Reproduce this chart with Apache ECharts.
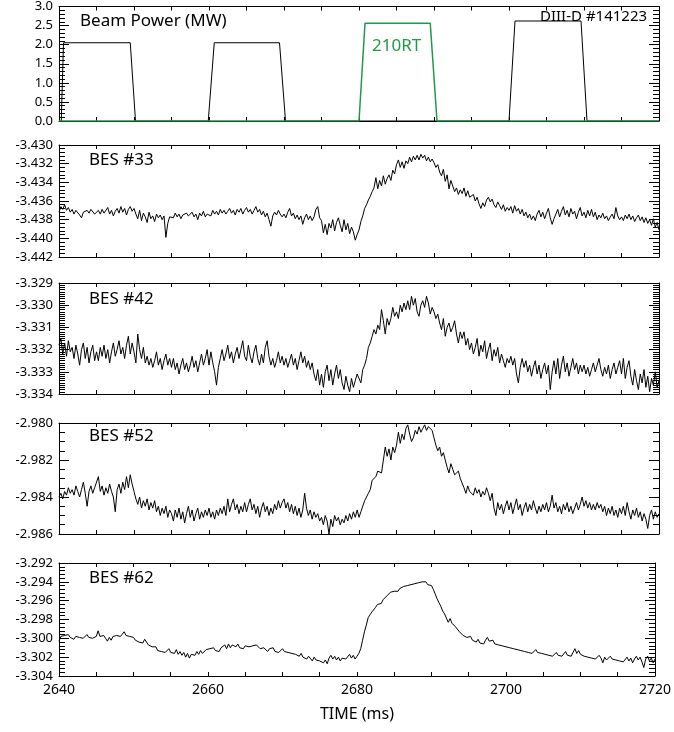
<!DOCTYPE html>
<html>
<head>
<meta charset="utf-8">
<script src="https://cdn.jsdelivr.net/npm/echarts@6/dist/echarts.min.js"></script>
<style>
  html, body { margin: 0; padding: 0; background: #fff; }
  #chart { width: 674px; height: 732px; }
</style>
</head>
<body>
<div id="chart"></div>
<script>
// time base of the BES traces (ms), one sample every 0.25 ms
var SAMPLE_START = 2640
var SAMPLE_STEP = 0.25

var panelNames = ['Beam Power (MW)', 'BES #33', 'BES #42', 'BES #52', 'BES #62']
var yMin = [0, -3.442, -3.334, -2.986, -3.304]
var yMax = [3.0, -3.430, -3.329, -2.980, -3.292]
var yStep = [0.5, 0.002, 0.001, 0.002, 0.002]
var yMinorSplit = [5, 5, 10, 4, 5]
var yDecimals = [1, 3, 3, 3, 3]

// beam power, [time ms, MW]
var beamOther = [
  [2640.0, 0], [2640.3, 0], [2640.6, 2.05], [2649.5, 2.05], [2650.2, 0],
  [2659.9, 0], [2660.7, 2.05], [2669.4, 2.05], [2670.2, 0],
  [2700.0, 0], [2700.8, 2.62], [2709.6, 2.62], [2710.4, 0], [2720, 0]
]
var beam210RT = [
  [2640, 0], [2680.0, 0], [2680.8, 2.56], [2689.5, 2.56], [2690.4, 0], [2720, 0]
]

var bes33 = [
  -3.4372,-3.4366,-3.4369,-3.4364,-3.4370,-3.4367,-3.4372,-3.4369,-3.4374,-3.4370,-3.4368,-3.4375,-3.4378,-3.4372,-3.4374,-3.4370,-3.4373,-3.4369,-3.4371,-3.4374,
  -3.4372,-3.4370,-3.4374,-3.4369,-3.4373,-3.4371,-3.4367,-3.4374,-3.4370,-3.4376,-3.4371,-3.4368,-3.4373,-3.4366,-3.4372,-3.4368,-3.4375,-3.4369,-3.4366,-3.4371,
  -3.4368,-3.4374,-3.4379,-3.4370,-3.4381,-3.4373,-3.4377,-3.4383,-3.4372,-3.4379,-3.4376,-3.4382,-3.4374,-3.4378,-3.4375,-3.4380,-3.4376,-3.4399,-3.4384,-3.4377,
  -3.4375,-3.4378,-3.4373,-3.4377,-3.4374,-3.4379,-3.4375,-3.4377,-3.4373,-3.4376,-3.4378,-3.4372,-3.4377,-3.4374,-3.4380,-3.4373,-3.4376,-3.4371,-3.4377,-3.4374,
  -3.4372,-3.4376,-3.4370,-3.4374,-3.4371,-3.4375,-3.4369,-3.4373,-3.4370,-3.4374,-3.4371,-3.4368,-3.4373,-3.4370,-3.4375,-3.4369,-3.4372,-3.4368,-3.4374,-3.4370,
  -3.4367,-3.4372,-3.4369,-3.4374,-3.4370,-3.4366,-3.4372,-3.4369,-3.4375,-3.4371,-3.4377,-3.4373,-3.4380,-3.4387,-3.4376,-3.4372,-3.4375,-3.4370,-3.4374,-3.4377,
  -3.4374,-3.4378,-3.4372,-3.4368,-3.4376,-3.4373,-3.4379,-3.4375,-3.4380,-3.4376,-3.4385,-3.4378,-3.4374,-3.4380,-3.4376,-3.4381,-3.4377,-3.4369,-3.4366,-3.4378,
  -3.4381,-3.4394,-3.4385,-3.4396,-3.4384,-3.4389,-3.4380,-3.4392,-3.4383,-3.4378,-3.4386,-3.4393,-3.4380,-3.4391,-3.4384,-3.4395,-3.4388,-3.4393,-3.4402,-3.4396,
  -3.4391,-3.4382,-3.4376,-3.4368,-3.4364,-3.4359,-3.4355,-3.4350,-3.4346,-3.4335,-3.4347,-3.4338,-3.4344,-3.4333,-3.4342,-3.4336,-3.4332,-3.4338,-3.4327,-3.4331,
  -3.4321,-3.4316,-3.4324,-3.4318,-3.4325,-3.4317,-3.4320,-3.4313,-3.4318,-3.4312,-3.4316,-3.4311,-3.4316,-3.4310,-3.4314,-3.4311,-3.4317,-3.4313,-3.4318,-3.4315,
  -3.4319,-3.4324,-3.4321,-3.4329,-3.4333,-3.4326,-3.4339,-3.4332,-3.4347,-3.4338,-3.4344,-3.4350,-3.4346,-3.4353,-3.4348,-3.4352,-3.4346,-3.4355,-3.4349,-3.4356,
  -3.4357,-3.4353,-3.4360,-3.4356,-3.4363,-3.4368,-3.4362,-3.4366,-3.4359,-3.4356,-3.4361,-3.4358,-3.4364,-3.4367,-3.4361,-3.4365,-3.4369,-3.4364,-3.4371,-3.4367,
  -3.4370,-3.4366,-3.4373,-3.4365,-3.4371,-3.4368,-3.4374,-3.4369,-3.4376,-3.4372,-3.4378,-3.4374,-3.4380,-3.4376,-3.4381,-3.4374,-3.4370,-3.4377,-3.4372,-3.4379,
  -3.4373,-3.4368,-3.4378,-3.4385,-3.4379,-3.4374,-3.4369,-3.4377,-3.4371,-3.4366,-3.4375,-3.4370,-3.4377,-3.4368,-3.4374,-3.4371,-3.4379,-3.4372,-3.4367,-3.4376,
  -3.4372,-3.4378,-3.4370,-3.4376,-3.4369,-3.4377,-3.4372,-3.4380,-3.4375,-3.4378,-3.4373,-3.4379,-3.4376,-3.4381,-3.4377,-3.4374,-3.4379,-3.4367,-3.4376,-3.4380,
  -3.4377,-3.4381,-3.4375,-3.4379,-3.4374,-3.4380,-3.4376,-3.4382,-3.4378,-3.4375,-3.4381,-3.4377,-3.4383,-3.4378,-3.4384,-3.4380,-3.4386,-3.4379,-3.4388,-3.4383,
  -3.4391
]

var bes42 = [
  -3.3318,-3.3315,-3.3322,-3.3317,-3.3323,-3.3316,-3.3321,-3.3319,-3.3324,-3.3318,-3.3322,-3.3327,-3.3320,-3.3317,-3.3324,-3.3319,-3.3326,-3.3321,-3.3318,-3.3325,
  -3.3321,-3.3325,-3.3319,-3.3323,-3.3318,-3.3324,-3.3320,-3.3326,-3.3321,-3.3317,-3.3323,-3.3320,-3.3316,-3.3322,-3.3319,-3.3324,-3.3318,-3.3314,-3.3322,-3.3317,
  -3.3321,-3.3326,-3.3313,-3.3320,-3.3324,-3.3319,-3.3326,-3.3323,-3.3327,-3.3324,-3.3328,-3.3325,-3.3321,-3.3327,-3.3324,-3.3329,-3.3325,-3.3322,-3.3327,-3.3324,
  -3.3328,-3.3324,-3.3329,-3.3326,-3.3331,-3.3327,-3.3324,-3.3329,-3.3326,-3.3330,-3.3327,-3.3323,-3.3328,-3.3325,-3.3330,-3.3326,-3.3322,-3.3327,-3.3324,-3.3320,
  -3.3327,-3.3321,-3.3326,-3.3330,-3.3336,-3.3328,-3.3324,-3.3320,-3.3325,-3.3322,-3.3318,-3.3324,-3.3321,-3.3326,-3.3322,-3.3319,-3.3324,-3.3320,-3.3316,-3.3323,
  -3.3325,-3.3318,-3.3323,-3.3326,-3.3321,-3.3318,-3.3324,-3.3327,-3.3322,-3.3326,-3.3319,-3.3316,-3.3323,-3.3327,-3.3324,-3.3328,-3.3325,-3.3321,-3.3326,-3.3323,
  -3.3327,-3.3324,-3.3328,-3.3325,-3.3322,-3.3327,-3.3324,-3.3329,-3.3325,-3.3321,-3.3326,-3.3323,-3.3328,-3.3325,-3.3329,-3.3326,-3.3331,-3.3334,-3.3329,-3.3336,
  -3.3331,-3.3337,-3.3330,-3.3327,-3.3334,-3.3329,-3.3336,-3.3331,-3.3327,-3.3333,-3.3329,-3.3335,-3.3338,-3.3332,-3.3336,-3.3339,-3.3333,-3.3337,-3.3334,-3.3331,
  -3.3331,-3.3335,-3.3329,-3.3327,-3.3324,-3.3319,-3.3317,-3.3314,-3.3311,-3.3313,-3.3309,-3.3311,-3.3302,-3.3307,-3.3313,-3.3306,-3.3309,-3.3306,-3.3301,-3.3305,
  -3.3303,-3.3306,-3.3300,-3.3303,-3.3299,-3.3302,-3.3298,-3.3302,-3.3296,-3.3300,-3.3297,-3.3303,-3.3305,-3.3300,-3.3298,-3.3301,-3.3296,-3.3299,-3.3304,-3.3301,
  -3.3303,-3.3306,-3.3304,-3.3308,-3.3311,-3.3306,-3.3314,-3.3310,-3.3308,-3.3312,-3.3310,-3.3307,-3.3313,-3.3317,-3.3312,-3.3315,-3.3312,-3.3318,-3.3315,-3.3320,
  -3.3317,-3.3322,-3.3319,-3.3315,-3.3323,-3.3318,-3.3321,-3.3316,-3.3324,-3.3320,-3.3317,-3.3325,-3.3320,-3.3323,-3.3319,-3.3326,-3.3322,-3.3325,-3.3328,-3.3324,
  -3.3326,-3.3323,-3.3327,-3.3324,-3.3331,-3.3335,-3.3328,-3.3324,-3.3328,-3.3325,-3.3330,-3.3327,-3.3332,-3.3328,-3.3325,-3.3331,-3.3327,-3.3333,-3.3329,-3.3326,
  -3.3331,-3.3327,-3.3338,-3.3330,-3.3325,-3.3331,-3.3324,-3.3333,-3.3327,-3.3323,-3.3330,-3.3326,-3.3332,-3.3328,-3.3324,-3.3329,-3.3326,-3.3331,-3.3327,-3.3330,
  -3.3327,-3.3331,-3.3328,-3.3332,-3.3329,-3.3326,-3.3330,-3.3327,-3.3324,-3.3329,-3.3332,-3.3328,-3.3331,-3.3327,-3.3333,-3.3329,-3.3326,-3.3331,-3.3328,-3.3325,
  -3.3331,-3.3324,-3.3333,-3.3328,-3.3325,-3.3332,-3.3336,-3.3329,-3.3334,-3.3338,-3.3331,-3.3335,-3.3329,-3.3337,-3.3332,-3.3339,-3.3333,-3.3336,-3.3330,-3.3337,
  -3.3334
]

var bes52 = [
  -2.9840,-2.9838,-2.9841,-2.9837,-2.9839,-2.9835,-2.9838,-2.9836,-2.9839,-2.9834,-2.9837,-2.9840,-2.9836,-2.9832,-2.9838,-2.9845,-2.9837,-2.9834,-2.9838,-2.9835,
  -2.9836,-2.9829,-2.9837,-2.9834,-2.9839,-2.9835,-2.9838,-2.9833,-2.9837,-2.9840,-2.9848,-2.9836,-2.9833,-2.9838,-2.9832,-2.9836,-2.9829,-2.9835,-2.9828,-2.9833,
  -2.9837,-2.9841,-2.9844,-2.9840,-2.9846,-2.9842,-2.9845,-2.9841,-2.9847,-2.9843,-2.9846,-2.9842,-2.9848,-2.9845,-2.9850,-2.9846,-2.9849,-2.9845,-2.9851,-2.9847,
  -2.9849,-2.9853,-2.9847,-2.9851,-2.9846,-2.9852,-2.9848,-2.9854,-2.9849,-2.9845,-2.9851,-2.9847,-2.9853,-2.9849,-2.9846,-2.9852,-2.9848,-2.9851,-2.9847,-2.9850,
  -2.9846,-2.9851,-2.9848,-2.9852,-2.9847,-2.9850,-2.9846,-2.9849,-2.9845,-2.9850,-2.9841,-2.9848,-2.9844,-2.9841,-2.9847,-2.9844,-2.9849,-2.9845,-2.9848,-2.9843,
  -2.9848,-2.9844,-2.9841,-2.9847,-2.9844,-2.9849,-2.9845,-2.9851,-2.9846,-2.9843,-2.9848,-2.9845,-2.9850,-2.9846,-2.9849,-2.9844,-2.9847,-2.9842,-2.9846,-2.9843,
  -2.9841,-2.9846,-2.9843,-2.9848,-2.9844,-2.9849,-2.9845,-2.9850,-2.9846,-2.9851,-2.9847,-2.9838,-2.9846,-2.9850,-2.9847,-2.9852,-2.9848,-2.9851,-2.9849,-2.9853,
  -2.9851,-2.9855,-2.9850,-2.9853,-2.9860,-2.9852,-2.9856,-2.9850,-2.9853,-2.9851,-2.9855,-2.9852,-2.9854,-2.9850,-2.9853,-2.9849,-2.9852,-2.9848,-2.9851,-2.9847,
  -2.9851,-2.9848,-2.9847,-2.9842,-2.9840,-2.9838,-2.9836,-2.9831,-2.9832,-2.9829,-2.9826,-2.9825,-2.9827,-2.9820,-2.9813,-2.9818,-2.9814,-2.9820,-2.9813,-2.9816,
  -2.9812,-2.9805,-2.9811,-2.9806,-2.9809,-2.9803,-2.9801,-2.9806,-2.9810,-2.9808,-2.9804,-2.9806,-2.9802,-2.9805,-2.9803,-2.9801,-2.9804,-2.9802,-2.9801,-2.9804,
  -2.9808,-2.9812,-2.9815,-2.9813,-2.9818,-2.9816,-2.9820,-2.9824,-2.9827,-2.9822,-2.9825,-2.9828,-2.9829,-2.9826,-2.9830,-2.9829,-2.9835,-2.9838,-2.9834,-2.9837,
  -2.9836,-2.9839,-2.9835,-2.9838,-2.9836,-2.9840,-2.9837,-2.9839,-2.9835,-2.9838,-2.9842,-2.9838,-2.9846,-2.9850,-2.9843,-2.9847,-2.9844,-2.9849,-2.9845,-2.9842,
  -2.9847,-2.9843,-2.9849,-2.9845,-2.9841,-2.9847,-2.9844,-2.9850,-2.9846,-2.9843,-2.9848,-2.9844,-2.9847,-2.9842,-2.9846,-2.9849,-2.9845,-2.9848,-2.9844,-2.9847,
  -2.9843,-2.9848,-2.9845,-2.9839,-2.9846,-2.9843,-2.9848,-2.9845,-2.9849,-2.9844,-2.9847,-2.9843,-2.9848,-2.9845,-2.9849,-2.9846,-2.9843,-2.9847,-2.9844,-2.9840,
  -2.9845,-2.9842,-2.9846,-2.9843,-2.9847,-2.9844,-2.9847,-2.9843,-2.9846,-2.9844,-2.9848,-2.9845,-2.9850,-2.9846,-2.9849,-2.9845,-2.9850,-2.9847,-2.9851,-2.9846,
  -2.9849,-2.9845,-2.9850,-2.9843,-2.9848,-2.9852,-2.9847,-2.9850,-2.9846,-2.9851,-2.9848,-2.9853,-2.9849,-2.9852,-2.9857,-2.9850,-2.9847,-2.9852,-2.9848,-2.9851,
  -2.9849
]

var bes62 = [
  -3.3003,-3.2998,-3.3000,-3.2997,-3.2999,-3.2996,-3.2999,-3.2997,-3.3001,-3.2998,-3.2996,-3.2999,-3.2997,-3.3000,-3.2998,-3.2996,-3.2999,-3.2997,-3.3000,-3.2998,
  -3.2998,-3.2992,-3.2998,-3.2999,-3.2997,-3.3000,-3.3003,-3.2999,-3.3002,-3.2998,-3.3000,-3.2997,-3.2995,-3.2998,-3.2996,-3.2993,-3.2997,-3.2995,-3.2998,-3.2996,
  -3.2999,-3.3002,-3.3000,-3.3004,-3.3002,-3.3005,-3.3001,-3.3004,-3.3007,-3.3005,-3.3009,-3.3011,-3.3009,-3.3013,-3.3011,-3.3014,-3.3012,-3.3015,-3.3013,-3.3011,
  -3.3015,-3.3013,-3.3016,-3.3012,-3.3017,-3.3014,-3.3018,-3.3015,-3.3020,-3.3016,-3.3021,-3.3017,-3.3015,-3.3018,-3.3014,-3.3017,-3.3013,-3.3016,-3.3014,-3.3012,
  -3.3014,-3.3011,-3.3013,-3.3010,-3.3013,-3.3011,-3.3014,-3.3010,-3.3012,-3.3007,-3.3011,-3.3006,-3.3010,-3.3007,-3.3005,-3.3009,-3.3006,-3.3010,-3.3008,-3.3011,
  -3.3008,-3.3006,-3.3009,-3.3011,-3.3008,-3.3010,-3.3007,-3.3009,-3.3011,-3.3013,-3.3010,-3.3012,-3.3014,-3.3011,-3.3013,-3.3010,-3.3014,-3.3012,-3.3015,-3.3013,
  -3.3011,-3.3014,-3.3012,-3.3015,-3.3013,-3.3016,-3.3014,-3.3017,-3.3015,-3.3019,-3.3016,-3.3020,-3.3018,-3.3022,-3.3019,-3.3021,-3.3024,-3.3020,-3.3023,-3.3021,
  -3.3024,-3.3022,-3.3026,-3.3023,-3.3027,-3.3021,-3.3018,-3.3022,-3.3019,-3.3023,-3.3020,-3.3024,-3.3021,-3.3019,-3.3022,-3.3020,-3.3017,-3.3021,-3.3018,-3.3022,
  -3.3019,-3.3016,-3.3011,-3.3002,-3.2993,-3.2986,-3.2978,-3.2975,-3.2972,-3.2970,-3.2967,-3.2964,-3.2962,-3.2963,-3.2959,-3.2957,-3.2955,-3.2953,-3.2951,-3.2953,
  -3.2950,-3.2948,-3.2950,-3.2947,-3.2948,-3.2945,-3.2947,-3.2944,-3.2946,-3.2943,-3.2945,-3.2942,-3.2944,-3.2941,-3.2943,-3.2940,-3.2942,-3.2940,-3.2943,-3.2941,
  -3.2944,-3.2948,-3.2953,-3.2958,-3.2962,-3.2966,-3.2971,-3.2974,-3.2976,-3.2983,-3.2979,-3.2984,-3.2986,-3.2988,-3.2990,-3.2993,-3.2995,-3.2997,-3.2998,-3.2999,
  -3.3001,-3.2998,-3.3002,-3.3000,-3.3004,-3.3001,-3.3005,-3.3003,-3.3006,-3.3002,-3.2999,-3.3003,-3.3005,-3.3002,-3.3006,-3.3004,-3.3007,-3.3005,-3.3008,-3.3006,
  -3.3009,-3.3007,-3.3010,-3.3008,-3.3011,-3.3009,-3.3012,-3.3010,-3.3013,-3.3011,-3.3014,-3.3012,-3.3015,-3.3013,-3.3016,-3.3014,-3.3012,-3.3015,-3.3013,-3.3016,
  -3.3014,-3.3017,-3.3015,-3.3018,-3.3016,-3.3019,-3.3017,-3.3015,-3.3018,-3.3016,-3.3019,-3.3017,-3.3014,-3.3018,-3.3016,-3.3019,-3.3017,-3.3011,-3.3016,-3.3013,
  -3.3017,-3.3015,-3.3019,-3.3017,-3.3020,-3.3018,-3.3021,-3.3019,-3.3022,-3.3020,-3.3018,-3.3021,-3.3026,-3.3020,-3.3023,-3.3021,-3.3019,-3.3022,-3.3020,-3.3023,
  -3.3021,-3.3024,-3.3022,-3.3025,-3.3023,-3.3020,-3.3024,-3.3021,-3.3026,-3.3022,-3.3019,-3.3023,-3.3020,-3.3025,-3.3031,-3.3022,-3.3019,-3.3024,-3.3021,-3.3026,
  -3.3022
]

var chartDom = document.getElementById('chart')
var chart = echarts.init(chartDom)
var FONT = 'Noto Sans'
var GREEN = '#1f9a48'

// panel boxes, pixels
var gridTop = [6, 145, 283, 423, 563]
var gridHeight = [115, 112, 111, 111, 113]

function withTime(values) {
  var out = []
  for (var i = 0; i < values.length; i++) {
    out.push([SAMPLE_START + i * SAMPLE_STEP, values[i]])
  }
  return out
}

function xAxisFor(g, pos) {
  var bottomPanel = g === 4 && pos === 'bottom'
  return {
    type: 'value',
    gridIndex: g,
    position: pos,
    min: 2640,
    max: 2720,
    interval: 20,
    axisLine: { onZero: false, lineStyle: { color: '#000', width: 1 } },
    axisTick: { inside: true, length: 4, lineStyle: { color: '#000' } },
    minorTick: { show: true, splitNumber: 4, length: 4, lineStyle: { color: '#000' } },
    splitLine: { show: false },
    axisLabel: {
      show: bottomPanel, color: '#000', fontFamily: FONT, fontSize: 14, margin: 7,
      formatter: function (v) { return String(v) }
    },
    name: bottomPanel ? 'TIME (ms)' : '',
    nameLocation: 'middle',
    nameGap: 30,
    nameTextStyle: { color: '#000', fontFamily: FONT, fontSize: 16 }
  }
}

function yAxisFor(g, pos) {
  return {
    type: 'value',
    gridIndex: g,
    position: pos,
    min: yMin[g],
    max: yMax[g],
    interval: yStep[g],
    axisLine: { onZero: false, lineStyle: { color: '#000', width: 1 } },
    axisTick: { inside: true, length: 10, lineStyle: { color: '#000' } },
    minorTick: { show: true, splitNumber: yMinorSplit[g], length: 6, lineStyle: { color: '#000' } },
    splitLine: { show: false },
    axisLabel: {
      show: pos === 'left',
      color: '#000',
      fontFamily: FONT,
      fontSize: 13,
      margin: 6,
      formatter: function (v) { return v.toFixed(yDecimals[g]) }
    }
  }
}

var grids = []
var xAxes = []
var yAxes = []
for (var g = 0; g < 5; g++) {
  grids.push({ left: 59, right: 15, top: gridTop[g], height: gridHeight[g] })
  xAxes.push(xAxisFor(g, 'bottom'))
  xAxes.push(xAxisFor(g, 'top'))
  yAxes.push(yAxisFor(g, 'left'))
  yAxes.push(yAxisFor(g, 'right'))
}

function trace(g, data, color, width) {
  return {
    type: 'line',
    xAxisIndex: 2 * g,
    yAxisIndex: 2 * g,
    data: data,
    symbol: 'none',
    lineStyle: { color: color, width: width },
    animation: false
  }
}

var labelPos = [[80, 13], [89, 152], [89, 291], [89, 428], [89, 570]]
var graphics = []
for (var k = 0; k < 5; k++) {
  graphics.push({
    type: 'text', left: labelPos[k][0], top: labelPos[k][1],
    style: { text: panelNames[k], fill: '#000', font: '17px "Noto Sans"' }
  })
}
graphics.push({
  type: 'text', left: 372, top: 38,
  style: { text: '210RT', fill: GREEN, font: '17px "Noto Sans"' }
})
graphics.push({
  type: 'text', left: 540, top: 9,
  style: { text: 'DIII-D #141223', fill: '#000', font: '15px "Noto Sans"' }
})

option = {
  backgroundColor: '#fff',
  animation: false,
  grid: grids,
  xAxis: xAxes,
  yAxis: yAxes,
  graphic: graphics,
  series: [
    trace(0, beamOther, '#000', 1),
    trace(0, beam210RT, GREEN, 1.5),
    trace(1, withTime(bes33), '#000', 1),
    trace(2, withTime(bes42), '#000', 1),
    trace(3, withTime(bes52), '#000', 1),
    trace(4, withTime(bes62), '#000', 1)
  ]
}

chart.setOption(option)
</script>
</body>
</html>
